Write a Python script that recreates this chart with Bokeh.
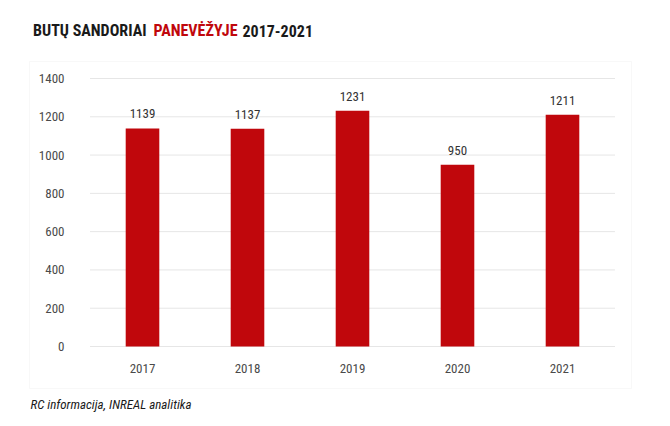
from bokeh.plotting import figure
from bokeh.models import ColumnDataSource, Label, FixedTicker, Range1d, BoxAnnotation
from bokeh.core.properties import value
from bokeh.embed import file_html
from bokeh.resources import INLINE

years = ["2017", "2018", "2019", "2020", "2021"]
deals = [1139, 1137, 1231, 950, 1211]
y_ticks = [0, 200, 400, 600, 800, 1000, 1200, 1400]
title_parts = ["BUTŲ SANDORIAI", "PANEVĖŽYJE", "2017-2021"]
source_note = "RC informacija, INREAL analitika"

FONT = "Roboto Condensed, DejaVu Sans Condensed, Liberation Sans Narrow, Roboto"
RED = "#C0070C"
TXT = "#4a4a4a"

idx = list(range(len(years)))
src = ColumnDataSource(dict(x=idx, top=deals, lbl=[str(v) for v in deals]))

# the frame covers the whole canvas; axes sit at the canvas edges with labels pulled inside
p = figure(width=670, height=426, output_backend="svg", toolbar_location=None,
           x_range=Range1d(-1.3524, 5.0286), y_range=Range1d(-417.9, 1807.5),
           min_border_left=0, min_border_right=0, min_border_top=0, min_border_bottom=0)
p.outline_line_color = None
p.grid.grid_line_color = None

# light grey box around the chart (screen units: x from left, y upward from bottom)
p.add_layout(BoxAnnotation(left=29, right=631, bottom=38, top=365,
                           left_units="screen", right_units="screen",
                           bottom_units="screen", top_units="screen",
                           fill_alpha=0, line_color="#e9e9e9", line_width=1, level="underlay"))

# horizontal grid lines limited to the category band
grid = ColumnDataSource(dict(y=y_ticks, x0=[-0.5] * len(y_ticks), x1=[len(years) - 0.5] * len(y_ticks)))
p.segment(x0="x0", x1="x1", y0="y", y1="y", source=grid, line_color="#e6e6e6", line_width=1)

p.vbar(x="x", top="top", width=0.32, source=src, fill_color=RED, line_color=None)
p.text(x="x", y="top", text="lbl", source=src, text_align="center", text_baseline="bottom",
       y_offset=-10, text_font=value(FONT), text_font_size="13px", text_color="#333333")

p.yaxis.ticker = FixedTicker(ticks=y_ticks)
p.xaxis.ticker = FixedTicker(ticks=idx)
p.xaxis.major_label_overrides = {i: y for i, y in zip(idx, years)}
for ax in (p.xaxis[0], p.yaxis[0]):
    ax.axis_line_color = None
    ax.major_tick_line_color = None
    ax.minor_tick_line_color = None
    ax.major_tick_out = 0
    ax.major_tick_in = 0
    ax.minor_tick_out = 0
    ax.major_label_text_font = FONT
    ax.major_label_text_font_size = "13px"
    ax.major_label_text_color = TXT
p.yaxis.major_label_standoff = -64
p.xaxis.major_label_standoff = -63

# title: first part ends left of the red word, red word centred, last part starts after it
xs = [146, 195, 242]
aligns = ["right", "center", "left"]
cols = ["#1a1a1a", RED, "#1a1a1a"]
for t, x, a, c in zip(title_parts, xs, aligns, cols):
    p.add_layout(Label(x=x, y=396, x_units="screen", y_units="screen", text=t,
                       text_font=FONT, text_font_style="bold", text_font_size="16px",
                       text_color=c, text_align=a, text_baseline="alphabetic"))

p.add_layout(Label(x=30, y=22, x_units="screen", y_units="screen", text=source_note,
                   text_font=FONT, text_font_style="italic", text_font_size="13px",
                   text_color="#1a1a1a", text_baseline="alphabetic"))

open("out.html", "w").write(file_html(p, INLINE))
